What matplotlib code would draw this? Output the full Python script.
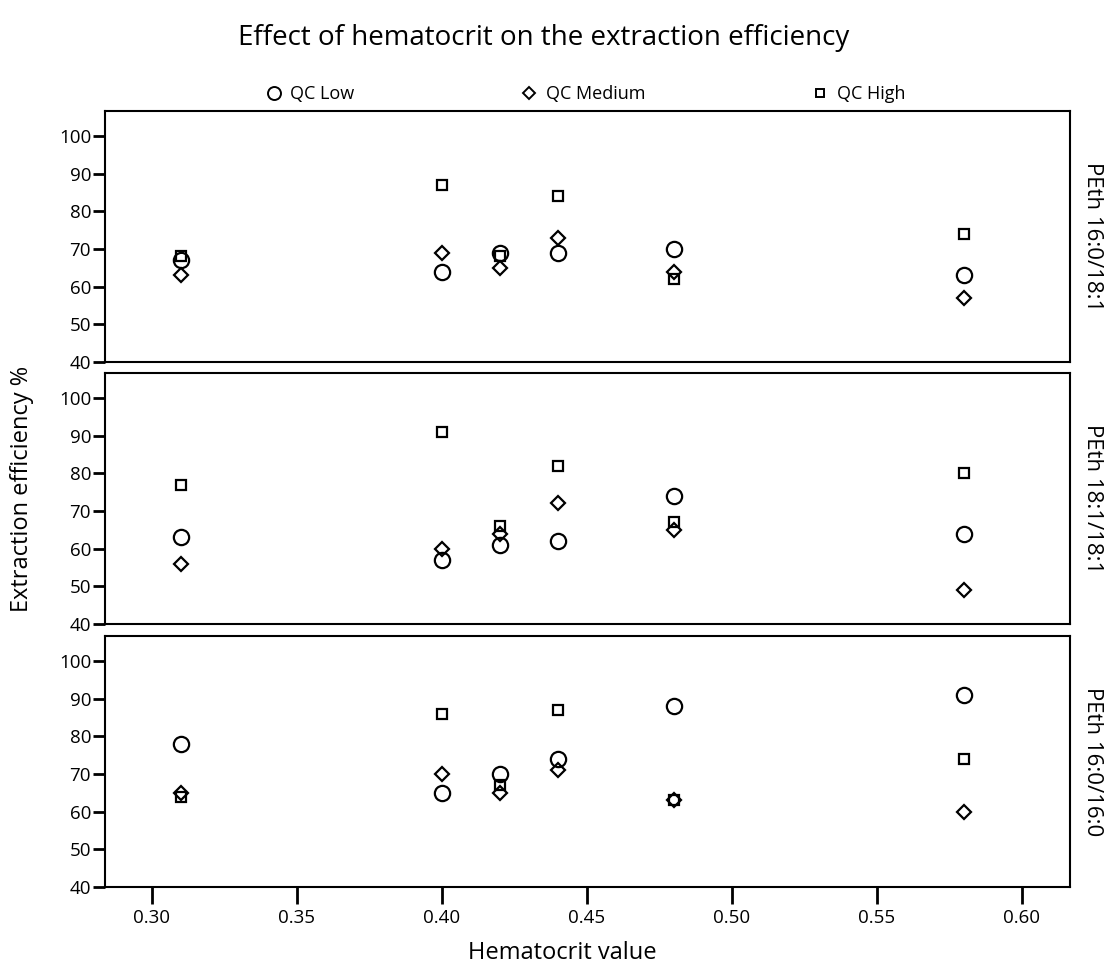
import matplotlib
matplotlib.use('Agg')
import matplotlib.pyplot as plt
from matplotlib.lines import Line2D

plt.rcParams['font.family'] = ['Open Sans', 'DejaVu Sans']

# Hematocrit levels tested
hematocrit = [0.31, 0.40, 0.42, 0.44, 0.48, 0.58]

panels = ['PEth 16:0/18:1', 'PEth 18:1/18:1', 'PEth 16:0/16:0']

# Extraction efficiency % per panel
qc_low = [
    [67, 64, 69, 69, 70, 63],
    [63, 57, 61, 62, 74, 64],
    [78, 65, 70, 74, 88, 91],
]
qc_medium = [
    [63, 69, 65, 73, 64, 57],
    [56, 60, 64, 72, 65, 49],
    [65, 70, 65, 71, 63, 60],
]
qc_high = [
    [68, 87, 68, 84, 62, 74],
    [77, 91, 66, 82, 67, 80],
    [64, 86, 67, 87, 63, 74],
]

series = [
    ('QC Low', qc_low, 'o', 11),
    ('QC Medium', qc_medium, 'D', 7.5),
    ('QC High', qc_high, 's', 7.5),
]

fig = plt.figure(figsize=(11.1, 9.72), dpi=100)

left, width = 0.0946, 0.8694
bottoms = [0.6276, 0.358, 0.0874]
height = 0.2582

axes = []
for i, name in enumerate(panels):
    ax = fig.add_axes([left, bottoms[i], width, height])
    for label, vals, marker, ms in series:
        ax.plot(hematocrit, vals[i], linestyle='none', marker=marker,
                markersize=ms, markerfacecolor='none', markeredgecolor='black',
                markeredgewidth=1.6)
    ax.set_xlim(0.2838, 0.6166)
    ax.set_ylim(40, 106.6)
    ax.set_yticks([40, 50, 60, 70, 80, 90, 100])
    ax.tick_params(axis='y', direction='out', length=9, width=2, labelsize=13.5, pad=1)
    if i < 2:
        ax.tick_params(axis='x', bottom=False, labelbottom=False)
    else:
        ax.set_xticks([0.30, 0.35, 0.40, 0.45, 0.50, 0.55, 0.60])
        ax.set_xticklabels(['0.30', '0.35', '0.40', '0.45', '0.50', '0.55', '0.60'])
        ax.tick_params(axis='x', direction='out', length=12, width=2, labelsize=13.5, pad=4)
    for sp in ax.spines.values():
        sp.set_linewidth(1.5)
    ax.text(1.012, 0.5, name, transform=ax.transAxes, rotation=270,
            ha='left', va='center', fontsize=16)
    axes.append(ax)

fig.suptitle('Effect of hematocrit on the extraction efficiency', y=0.975, x=0.49, fontsize=20)
fig.text(0.02, 0.497, 'Extraction efficiency %', rotation=90, ha='center', va='center', fontsize=17)
fig.text(0.507, 0.02, 'Hematocrit value', ha='center', va='center', fontsize=17)

handles = [Line2D([], [], linestyle='none', marker=m, markersize=ms * 0.85,
                  markerfacecolor='none', markeredgecolor='black', markeredgewidth=1.4)
           for _, _, m, ms in series]
fig.legend(handles, [s[0] for s in series], ncol=3, loc='center',
           bbox_to_anchor=(0.527, 0.903), frameon=False, fontsize=13,
           handlelength=1.0, handletextpad=0.4, columnspacing=9.2)

fig.savefig('out.png', dpi=100)
